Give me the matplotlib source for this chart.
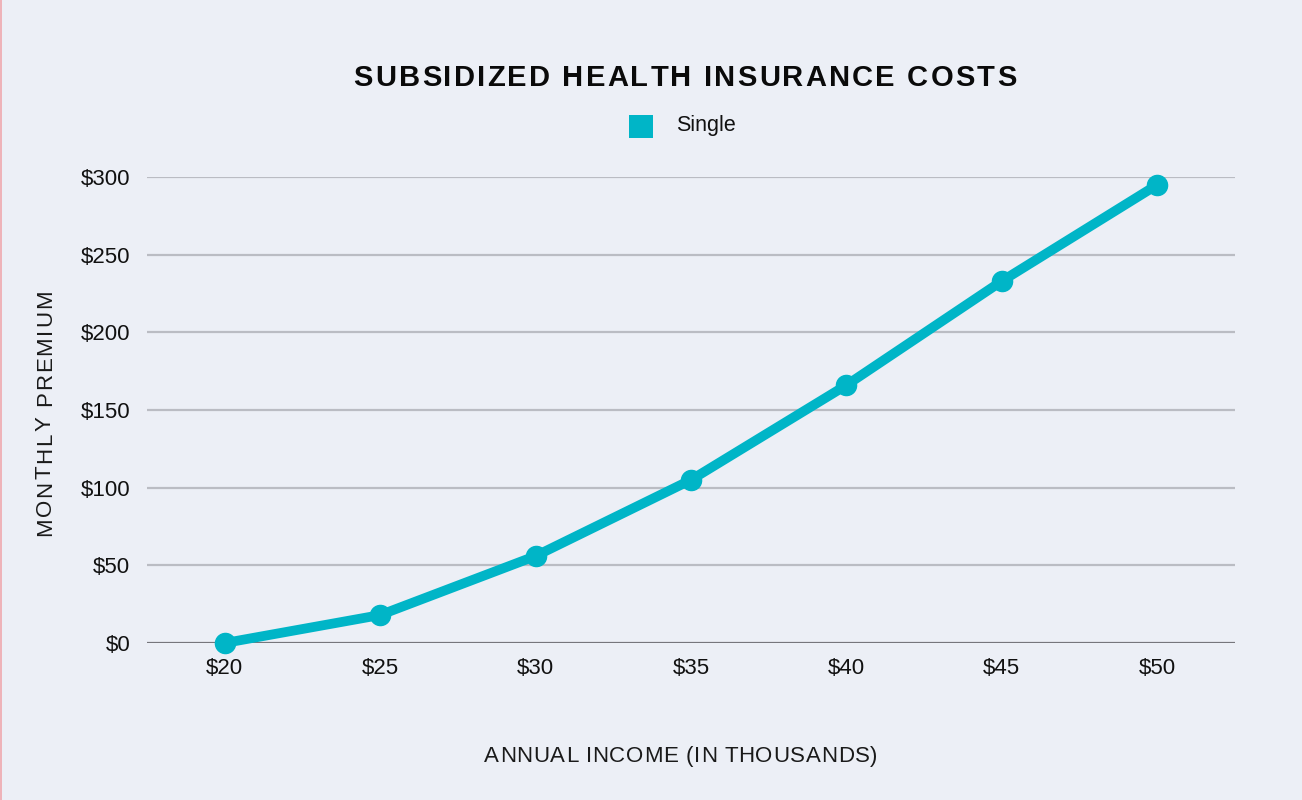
import matplotlib
matplotlib.use("Agg")
import matplotlib.pyplot as plt
from matplotlib.font_manager import FontProperties, findfont, get_font
from matplotlib.patches import Rectangle

# ---- data ----
income_labels = ["$20", "$25", "$30", "$35", "$40", "$45", "$50"]
premium_single = [0, 18, 56, 105, 166, 233, 295]
y_ticks = [0, 50, 100, 150, 200, 250, 300]
y_tick_labels = ["$0", "$50", "$100", "$150", "$200", "$250", "$300"]
title_text = "SUBSIDIZED HEALTH INSURANCE COSTS"
xlabel_text = "ANNUAL INCOME (IN THOUSANDS)"
ylabel_text = "MONTHLY PREMIUM"
series_name = "Single"

BG = "#ECEFF6"
CYAN = "#00B5C7"
W, H, DPI = 1302, 800, 100

fig = plt.figure(figsize=(W / DPI, H / DPI), dpi=DPI, facecolor=BG)
ax = fig.add_axes([147 / W, 1 - 643 / H, (1235 - 147) / W, (643 - 177) / H])
ax.set_facecolor(BG)

x = list(range(len(income_labels)))
ax.plot(x, premium_single, color=CYAN, lw=7.0, marker="o", ms=14.5,
        solid_capstyle="round", clip_on=False, zorder=5)

ax.set_xlim(-0.5, len(income_labels) - 0.5)
ax.set_ylim(0, 300)
ax.set_yticks(y_ticks)
ax.set_yticklabels(y_tick_labels)
ax.set_xticks(x)
ax.set_xticklabels(income_labels)
for sp in ax.spines.values():
    sp.set_visible(False)
ax.tick_params(length=0, labelsize=16, labelcolor="#111111")
ax.tick_params(axis="y", pad=12)
ax.tick_params(axis="x", pad=10.5)
for lab in ax.get_xticklabels() + ax.get_yticklabels():
    lab.set_fontfamily("Liberation Sans")
for v in y_ticks:
    if v == 0:
        ax.axhline(v, color="#76767c", lw=1.6, zorder=2)
    else:
        ax.axhline(v, color="#babcc3", lw=1.6, zorder=2)


def spaced_text(s, xc, yc, size, spacing_px, family, weight="normal",
                color="#111111", rotation=0):
    prop = FontProperties(family=family, weight=weight, size=size)
    font = get_font(findfont(prop))
    font.set_size(size, DPI)
    adv = []
    for c in s:
        g = font.load_char(ord(c))
        adv.append(g.linearHoriAdvance / 65536.0)
    total = sum(adv) + spacing_px * (len(s) - 1)
    off = -total / 2.0
    for c, a in zip(s, adv):
        if rotation == 0:
            fig.text(xc + off / W, yc, c, fontproperties=prop, color=color,
                     ha="left", va="baseline")
        else:
            fig.text(xc, yc + off / H, c, fontproperties=prop, color=color,
                     ha="left", va="baseline", rotation=90,
                     rotation_mode="anchor")
        off += a + spacing_px


# title
spaced_text(title_text, 685 / W, 1 - 86 / H, 21, 2.2, "Liberation Sans",
            weight="bold", color="#0a0a0a")
# x label
spaced_text(xlabel_text, 681 / W, 1 - 762 / H, 16, 0.7, "Liberation Sans",
            color="#1a1a1a")
# y label
spaced_text(ylabel_text, 51 / W, 1 - 413 / H, 16, 1.9, "Liberation Sans",
            color="#1a1a1a", rotation=90)

# legend
fig.patches.append(Rectangle((629 / W, 1 - 138 / H), 24 / W, 23 / H,
                             transform=fig.transFigure, facecolor=CYAN,
                             edgecolor="none"))
fig.text(676 / W, 1 - 126 / H, series_name, fontsize=15.5,
         family="Liberation Sans", color="#111111", ha="left", va="center")

# faint pinkish left edge
fig.patches.append(Rectangle((0, 0), 2 / W, 1, transform=fig.transFigure,
                             facecolor="#f09aa0", edgecolor="none", alpha=0.7))

fig.savefig("out.png", dpi=DPI, facecolor=BG)
